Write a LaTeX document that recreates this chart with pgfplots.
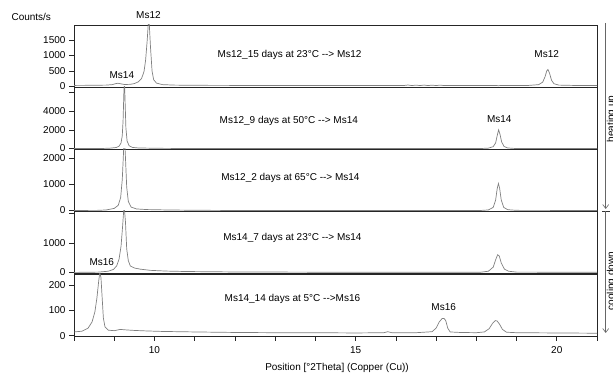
\documentclass[border=0pt]{standalone}
\usepackage{fontspec}
\setmainfont{Liberation Sans}
\usepackage{pgfplots}
\pgfplotsset{compat=1.18}
\usetikzlibrary{arrows.meta}

\pgfplotsset{
 panel/.style={
  scale only axis, width=523pt, height=62pt,
  xmin=8, xmax=21, anchor=south west,
  axis line style={black!85, line width=0.7pt},
  every tick/.style={black!85, line width=0.6pt},
  tick align=outside, major tick length=5pt,
  ytick pos=left, xtick=\empty,
  clip mode=individual,
  tick label style={font=\fontsize{10}{12}\selectfont},
  /pgf/number format/assume math mode=true,
  /pgf/number format/1000 sep={},
 },
 curve/.style={black!50, line width=0.7pt},
}
\newcommand{\lab}{\fontsize{10}{12}\selectfont}

\begin{document}
\begin{tikzpicture}
\useasboundingbox (0pt,0pt) rectangle (613pt,374pt);

% Panel 1
\begin{axis}[panel, at={(74pt,287pt)}, ymin=-16, ymax=1985, ytick={0,500,1000,1500}]
\addplot[curve] coordinates {
(8.0,35) (8.4,38) (8.8,45) (8.95,60) (9.03,90) (9.09,105) (9.15,90) (9.25,65) (9.4,70) (9.5,95) (9.6,150) (9.68,260) (9.74,480) (9.78,850) (9.82,1500) (9.86,2300) (9.9,1300) (9.94,500) (9.98,220) (10.05,110) (10.2,60) (10.5,45) (11,38) (12,35) (13,32) (14,32) (15,30) (15.6,30) (16.2,32) (16.3,48) (16.4,30) (16.5,45) (16.6,30) (16.7,46) (16.8,30) (16.9,44) (17.0,30) (17.1,45) (17.2,30) (17.6,30) (18.5,32) (18.55,25) (18.6,32) (19.3,35) (19.55,60) (19.65,140) (19.71,320) (19.75,500) (19.78,550) (19.82,430) (19.87,200) (19.93,90) (20.05,45) (20.4,35) (21,32)};
\node[font=\lab] at (axis cs:9.85,2290) {Ms12};
\node[font=\lab] at (axis cs:9.19,370) {Ms14};
\node[font=\lab] at (axis cs:19.75,1050) {Ms12};
\node[font=\lab] at (axis cs:13.36,1020) {Ms12\_15 days at 23°C -{}-> Ms12};
\end{axis}

% Panel 2
\begin{axis}[panel, at={(74pt,225pt)}, ymin=-50, ymax=6580, ytick={0,2000,4000,6000}, yticklabels={0,2000,4000,{}}]
\addplot[curve] coordinates {
(8,0) (8.7,5) (8.9,40) (9.05,110) (9.12,250) (9.17,600) (9.2,1400) (9.22,3000) (9.24,6000) (9.255,7200) (9.27,5000) (9.29,2200) (9.32,800) (9.37,300) (9.45,120) (9.6,60) (10,30) (10.3,15) (11,5) (13,0) (18.1,0) (18.3,40) (18.42,200) (18.48,600) (18.52,1400) (18.555,2000) (18.59,1500) (18.63,700) (18.69,220) (18.78,60) (18.95,10) (19.2,0) (21,0)};
\node[font=\lab] at (axis cs:13.34,2950) {Ms12\_9 days at 50°C -{}-> Ms14};
\node[font=\lab] at (axis cs:18.57,3160) {Ms14};
\end{axis}

% Panel 3
\begin{axis}[panel, at={(74pt,163pt)}, ymin=-20, ymax=2367, ytick={0,1000,2000}]
\addplot[curve] coordinates {
(8,0) (8.6,5) (8.8,20) (9.0,80) (9.1,200) (9.16,500) (9.2,1200) (9.23,2200) (9.25,3000) (9.28,2000) (9.31,900) (9.35,350) (9.42,130) (9.55,60) (9.8,35) (10.3,20) (11,8) (12,0) (18.1,0) (18.3,20) (18.42,120) (18.48,400) (18.52,850) (18.55,1040) (18.58,850) (18.62,400) (18.68,120) (18.78,30) (19,5) (21,0)};
\node[font=\lab] at (axis cs:13.38,1250) {Ms12\_2 days at 65°C -{}-> Ms14};
\end{axis}

% Panel 4
\begin{axis}[panel, at={(74pt,101pt)}, ymin=-20, ymax=2088, ytick={0,1000,2000}, yticklabels={0,1000,{}}]
\addplot[curve] coordinates {
(8,0) (8.6,10) (8.85,40) (8.98,100) (9.06,220) (9.12,450) (9.17,900) (9.21,1600) (9.245,2300) (9.28,1700) (9.31,800) (9.35,400) (9.4,220) (9.5,150) (9.65,110) (9.9,70) (10.3,45) (10.8,30) (12,15) (14,8) (16,5) (18.1,5) (18.3,40) (18.42,180) (18.48,430) (18.53,600) (18.57,560) (18.62,320) (18.7,110) (18.8,40) (19,10) (21,5)};
\node[font=\lab] at (axis cs:13.43,1170) {Ms14\_7 days at 23°C -{}-> Ms14};
\node[font=\lab] at (axis cs:8.69,365) {Ms16};
\end{axis}

% Panel 5
\begin{axis}[panel, at={(74pt,38pt)}, ymin=-1, ymax=244, ytick={0,100,200},
  xtick={8,...,21}, xticklabels={{},{},10,{},{},{},{},15,{},{},{},{},20,{}}, xtick pos=bottom,
  xticklabel style={yshift=-2pt}]
\addplot[curve] coordinates {
(8.0,15) (8.2,18) (8.35,30) (8.45,55) (8.52,95) (8.57,150) (8.61,210) (8.64,250) (8.67,230) (8.7,150) (8.73,70) (8.77,35) (8.85,22) (9.0,20) (9.15,25) (9.3,23) (9.5,21) (9.8,19) (10.2,17) (11,15) (12,13) (13,12) (14,12) (15,11) (15.7,12) (15.8,16) (15.9,12) (16.5,12) (16.9,16) (17.0,30) (17.08,55) (17.15,68) (17.2,68) (17.24,60) (17.29,30) (17.35,15) (17.6,13) (18.0,12) (18.2,15) (18.32,28) (18.4,48) (18.47,60) (18.52,58) (18.58,45) (18.65,25) (18.75,14) (19,12) (20,11) (21,10)};
\node[font=\lab] at (axis cs:13.43,145) {Ms14\_14 days at 5°C -{}->Ms16};
\node[font=\lab] at (axis cs:17.19,115) {Ms16};
\end{axis}

\node[font=\lab, anchor=west] at (8pt,357pt) {Counts/s};
\node[font=\lab] at (337pt,6pt) {Position [°2Theta] (Copper (Cu))};

\draw[black!60, line width=0.6pt, -{Straight Barb[length=4pt,width=6pt]}] (605.7pt,351pt) -- (605.7pt,165pt);
\draw[black!80, line width=0.6pt] (602pt,163pt) -- (609.5pt,163pt);
\draw[black!60, line width=0.6pt, -{Straight Barb[length=4pt,width=6pt]}] (605.7pt,163pt) -- (605.7pt,41pt);
\node[font=\lab, rotate=90, anchor=base, inner sep=0pt] at (614pt,255pt) {heating up};
\node[font=\lab, rotate=90, anchor=base, inner sep=0pt] at (614pt,93pt) {cooling down};
\end{tikzpicture}
\end{document}
